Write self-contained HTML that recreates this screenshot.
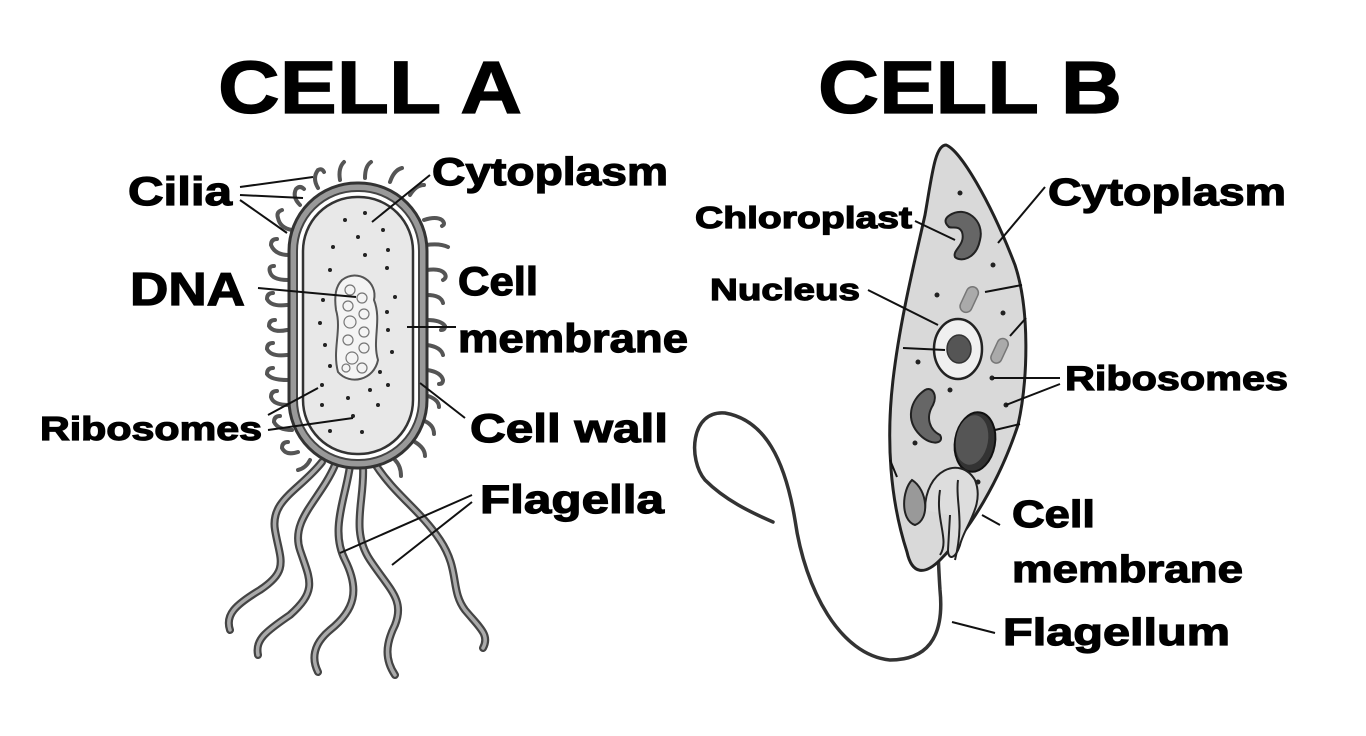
<!DOCTYPE html>
<html><head><meta charset="utf-8"><style>
html,body{margin:0;padding:0;background:#fff;width:1366px;height:736px;overflow:hidden}
svg{display:block}
text{font-family:"Liberation Sans",Arial,sans-serif;font-weight:bold;fill:#000;stroke:#000;stroke-width:1.2}
</style></head><body>
<svg width="1366" height="736" viewBox="0 0 1366 736">
<text x="218" y="113" font-size="74" textLength="304" lengthAdjust="spacingAndGlyphs" stroke-width="3">CELL A</text>
<text x="818" y="113" font-size="74" textLength="304" lengthAdjust="spacingAndGlyphs" stroke-width="3">CELL B</text>

<!-- CELL A flagella -->
<g fill="none" stroke-linecap="round">
<g stroke="#444" stroke-width="8">
<path id="f1" d="M322 462 C300 490 270 500 275 530 C280 560 290 570 260 590 C235 605 225 615 230 630"/>
<path id="f2" d="M335 465 C320 500 290 520 300 550 C310 580 318 590 290 615 C265 632 255 640 258 655"/>
<path id="f3" d="M350 466 C345 500 330 530 345 560 C360 590 355 610 330 630 C312 645 312 660 318 672"/>
<path id="f4" d="M363 466 C365 500 350 530 370 560 C390 590 405 600 395 625 C385 645 385 660 395 675"/>
<path id="f5" d="M375 464 C395 495 420 510 440 540 C460 570 450 590 465 610 C480 628 490 635 483 648"/>
</g>
<g stroke="#aaa" stroke-width="3.5">
<use href="#f1"/><use href="#f2"/><use href="#f3"/><use href="#f4"/><use href="#f5"/>
</g>
</g>
<!-- cilia -->
<g fill="none" stroke="#555" stroke-width="4" stroke-linecap="round">
<path d="M292 230 q-12 -2 -14 -12 q-2 -6 4 -8"/><path d="M289 255 q-14 0 -18 -10 q0 -6 6 -6"/><path d="M288 280 q-16 0 -18 -8 q-2 -6 4 -6"/><path d="M287 305 q-16 2 -20 -6 q0 -6 6 -6"/><path d="M287 330 q-14 3 -18 -4 q0 -6 6 -6"/><path d="M287 355 q-16 2 -20 -6 q0 -6 6 -6"/><path d="M287 380 q-16 0 -20 -6 q0 -6 6 -6"/><path d="M289 405 q-16 0 -18 -8 q0 -6 6 -6"/><path d="M292 430 q-14 0 -18 -8 q0 -6 6 -6"/><path d="M298 452 q-12 4 -16 -4 q0 -6 6 -6"/>
<path d="M300 205 q-8 -8 -4 -16 q4 -4 8 0"/><path d="M318 188 q-6 -10 0 -18 q4 -2 6 2"/><path d="M340 180 q-2 -12 4 -18"/><path d="M365 178 q0 -12 6 -16"/><path d="M390 182 q4 -12 12 -14"/><path d="M410 195 q6 -10 14 -10"/>
<path d="M424 220 q12 -4 18 0 q4 4 0 6"/><path d="M426 245 q14 -2 22 2"/><path d="M427 270 q14 -2 18 4 q2 4 -2 6"/><path d="M427 295 q14 0 16 8"/><path d="M427 320 q14 0 18 6 q0 4 -4 4"/><path d="M427 345 q14 2 16 10"/><path d="M427 370 q14 2 16 10 q0 4 -4 4"/><path d="M425 395 q14 4 14 12"/><path d="M422 420 q12 4 12 14"/><path d="M415 442 q10 6 10 14"/>
<path d="M310 460 q-4 8 -12 10"/><path d="M395 460 q6 6 6 16"/>
</g>
<rect x="289" y="183" width="138" height="285" rx="68" fill="#999" stroke="#333" stroke-width="3"/>
<rect x="297" y="191" width="122" height="269" rx="60" fill="#fff" stroke="#444" stroke-width="2"/>
<rect x="303" y="197" width="110" height="257" rx="54" fill="#e8e8e8" stroke="#333" stroke-width="2.5"/>
<!-- DNA -->
<path d="M342 280 C358 268 378 282 374 300 C382 320 372 340 378 360 C374 380 350 386 338 372 C332 350 342 330 336 310 C334 295 336 286 342 280Z" fill="#f4f4f4" stroke="#555" stroke-width="2"/>
<g fill="none" stroke="#777" stroke-width="1.2">
<circle cx="350" cy="290" r="5"/><circle cx="362" cy="298" r="5"/><circle cx="348" cy="306" r="5"/><circle cx="364" cy="314" r="5"/><circle cx="350" cy="322" r="6"/><circle cx="364" cy="332" r="5"/><circle cx="348" cy="340" r="5"/><circle cx="364" cy="348" r="5"/><circle cx="352" cy="358" r="6"/><circle cx="362" cy="368" r="5"/><circle cx="346" cy="368" r="4"/>
</g>
<g fill="#222">
<circle cx="345" cy="220" r="2"/><circle cx="365" cy="213" r="2"/><circle cx="383" cy="230" r="2"/><circle cx="358" cy="237" r="2"/><circle cx="333" cy="247" r="2"/><circle cx="365" cy="255" r="2"/><circle cx="388" cy="250" r="2"/><circle cx="330" cy="270" r="2"/><circle cx="387" cy="268" r="2"/><circle cx="395" cy="297" r="2"/><circle cx="323" cy="300" r="2"/><circle cx="387" cy="312" r="2"/><circle cx="320" cy="323" r="2"/><circle cx="388" cy="330" r="2"/><circle cx="325" cy="345" r="2"/><circle cx="392" cy="352" r="2"/><circle cx="330" cy="366" r="2"/><circle cx="380" cy="372" r="2"/><circle cx="388" cy="385" r="2"/><circle cx="322" cy="385" r="2"/><circle cx="348" cy="398" r="2"/><circle cx="370" cy="390" r="2"/><circle cx="322" cy="405" r="2"/><circle cx="378" cy="405" r="2"/><circle cx="353" cy="416" r="2"/><circle cx="330" cy="431" r="2"/><circle cx="362" cy="432" r="2"/>
</g>
<g stroke="#111" stroke-width="2" fill="none">
<path d="M240 187 L313 177"/><path d="M240 195 L303 198"/><path d="M240 200 L287 233"/>
<path d="M258 288 L356 297"/>
<path d="M430 175 L372 222"/>
<path d="M456 327 L407 327"/>
<path d="M465 418 L420 383"/>
<path d="M268 415 L318 388"/><path d="M268 430 L353 418"/>
<path d="M472 495 L340 553"/><path d="M472 502 L392 565"/>
</g>
<text x="128" y="205" font-size="40" textLength="104" lengthAdjust="spacingAndGlyphs">Cilia</text>
<text x="130" y="305" font-size="46" textLength="115" lengthAdjust="spacingAndGlyphs">DNA</text>
<text x="40" y="440" font-size="33" textLength="222" lengthAdjust="spacingAndGlyphs">Ribosomes</text>
<text x="432" y="185" font-size="39" textLength="236" lengthAdjust="spacingAndGlyphs">Cytoplasm</text>
<text x="458" y="295" font-size="40" textLength="80" lengthAdjust="spacingAndGlyphs">Cell</text>
<text x="458" y="352" font-size="40" textLength="230" lengthAdjust="spacingAndGlyphs">membrane</text>
<text x="470" y="442" font-size="40" textLength="198" lengthAdjust="spacingAndGlyphs">Cell wall</text>
<text x="480" y="513" font-size="40" textLength="184" lengthAdjust="spacingAndGlyphs">Flagella</text>

<!-- CELL B flagellum -->
<path d="M937 517 C938 545 938 560 940 590 C945 640 925 660 890 660 C840 655 805 590 795 520 C785 460 765 420 725 413 C690 410 688 460 705 480 C725 500 750 512 773 522" fill="none" stroke="#333" stroke-width="3.5" stroke-linecap="round"/>
<path d="M946 145 C960 150 990 200 1015 265 C1030 310 1028 380 1018 425 C1000 480 970 530 940 560 C925 575 912 575 907 552 C890 500 886 440 893 380 C900 320 915 260 925 215 C932 175 935 145 946 145Z" fill="#d9d9d9" stroke="#222" stroke-width="3"/>
<path d="M950 215 C965 205 985 220 980 240 C976 260 960 262 955 257 C952 250 966 245 962 232 C958 224 950 230 948 226 C944 222 945 218 950 215Z" fill="#666" stroke="#222" stroke-width="2"/>
<path d="M925 390 C910 400 905 420 920 435 C932 447 945 443 940 435 C930 430 925 418 933 405 C938 395 932 386 925 390Z" fill="#666" stroke="#222" stroke-width="2"/>
<rect x="963" y="286" width="12" height="27" rx="6" transform="rotate(25 969 300)" fill="#aaa" stroke="#777" stroke-width="1.5"/>
<rect x="994" y="338" width="11" height="26" rx="5.5" transform="rotate(25 1000 351)" fill="#aaa" stroke="#777" stroke-width="1.5"/>
<ellipse cx="958" cy="349" rx="24" ry="30" fill="#f0f0f0" stroke="#222" stroke-width="2.5"/>
<ellipse cx="959" cy="349" rx="12" ry="14" fill="#555" stroke="#333" stroke-width="1.5"/>
<ellipse cx="975" cy="442" rx="20" ry="30" fill="#333" stroke="#111" stroke-width="2" transform="rotate(10 975 442)"/>
<ellipse cx="972" cy="440" rx="16" ry="25" fill="#555" transform="rotate(10 972 440)"/>
<path d="M925 510 C925 470 960 455 975 480 C985 505 965 525 960 545 C955 560 948 560 948 550 L950 515" fill="#ddd" stroke="#222" stroke-width="2"/>
<path d="M940 490 C935 520 950 540 940 555" fill="none" stroke="#222" stroke-width="2"/>
<path d="M958 480 C955 500 965 520 955 560" fill="none" stroke="#222" stroke-width="2"/>
<path d="M912 480 C902 490 900 520 915 525 C930 520 928 490 912 480Z" fill="#999" stroke="#222" stroke-width="2"/>
<g fill="#222"><circle cx="960" cy="193" r="2.5"/><circle cx="993" cy="265" r="2.5"/><circle cx="937" cy="295" r="2.5"/><circle cx="1003" cy="313" r="2.5"/><circle cx="918" cy="362" r="2.5"/><circle cx="992" cy="378" r="2.5"/><circle cx="950" cy="390" r="2.5"/><circle cx="1006" cy="405" r="2.5"/><circle cx="915" cy="443" r="2.5"/><circle cx="978" cy="482" r="2.5"/></g>
<g stroke="#111" stroke-width="2" fill="none">
<path d="M915 221 L955 240"/>
<path d="M1045 187 L998 243"/>
<path d="M868 290 L938 325"/>
<path d="M903 348 L945 350"/>
<path d="M985 292 L1022 285"/><path d="M1010 336 L1026 318"/><path d="M995 430 L1020 424"/>
<path d="M993 378 L1060 378"/><path d="M1006 405 L1060 384"/>
<path d="M982 515 L1000 525"/>
<path d="M952 622 L995 633"/>
<path d="M890 460 L897 477"/>
</g>
<text x="695" y="228" font-size="31" textLength="217" lengthAdjust="spacingAndGlyphs">Chloroplast</text>
<text x="710" y="300" font-size="31" textLength="150" lengthAdjust="spacingAndGlyphs">Nucleus</text>
<text x="1048" y="205" font-size="38" textLength="238" lengthAdjust="spacingAndGlyphs">Cytoplasm</text>
<text x="1065" y="390" font-size="34" textLength="223" lengthAdjust="spacingAndGlyphs">Ribosomes</text>
<text x="1012" y="527" font-size="38" textLength="83" lengthAdjust="spacingAndGlyphs">Cell</text>
<text x="1012" y="582" font-size="38" textLength="231" lengthAdjust="spacingAndGlyphs">membrane</text>
<text x="1003" y="645" font-size="38" textLength="227" lengthAdjust="spacingAndGlyphs">Flagellum</text>
</svg>
</body></html>
